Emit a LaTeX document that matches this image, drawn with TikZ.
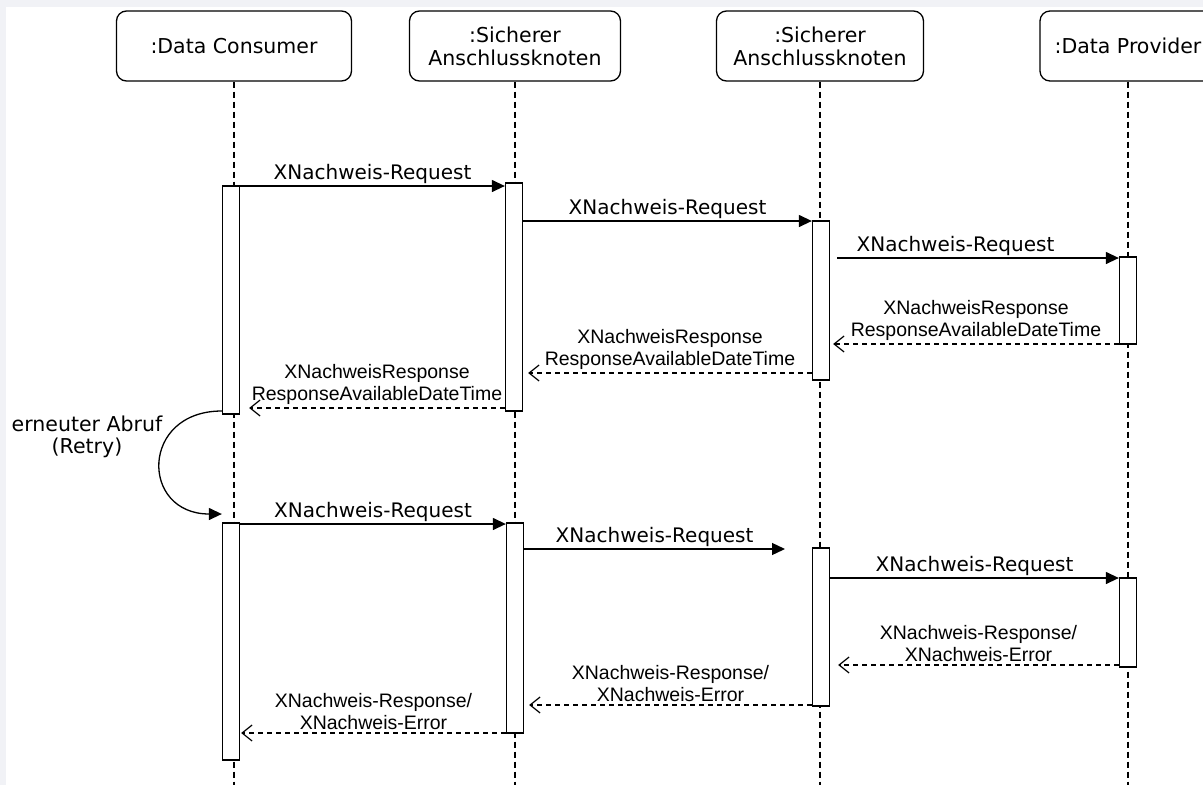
\documentclass[tikz,border=0pt]{standalone}
\usepackage{fontspec}
\setmainfont{DejaVu Sans}
\newfontfamily\respfont{Liberation Sans}
\usetikzlibrary{arrows.meta}
\definecolor{frame}{RGB}{241,242,246}

\begin{document}
\begin{tikzpicture}[x=1pt,y=-1pt,font=\fontsize{20.5}{23}\selectfont,
 obj/.style={draw,line width=1.3pt,rounded corners=10pt,fill=white,align=center,minimum height=70pt,inner sep=0pt},
 act/.style={draw,line width=1.3pt,fill=white,minimum width=17pt,inner sep=0pt},
 life/.style={line width=1.3pt,dash pattern=on 6pt off 4pt},
 req/.style={line width=1.3pt,-{Triangle[length=13pt,width=12pt]}},
 resp/.style={line width=1.2pt,dash pattern=on 5pt off 4pt,-{Straight Barb[length=10pt,width=16pt]}},
 lbl/.style={font=\fontsize{20}{22}\selectfont,inner sep=2pt},
 rlbl/.style={font=\respfont\fontsize{19.5}{22}\selectfont,align=center,inner sep=3pt}]
 \useasboundingbox (0,0) rectangle (1203,785);
 \clip (0,0) rectangle (1203,785);
 \fill[frame] (0,0) rectangle (1203,785);
 \fill[white] (6,7) rectangle (1203,785);
 % Objekte
 \node[obj,minimum width=235pt](dc) at (234,46) {:Data Consumer};
 \node[obj,minimum width=211pt](s1) at (515,46) {:Sicherer\\Anschlussknoten};
 \node[obj,minimum width=207pt](s2) at (820,46) {:Sicherer\\Anschlussknoten};
 \node[obj,minimum width=176pt](dp) at (1128,46) {:Data Provider};
 \draw[life](dc.south)--(dc.south |- 0,785);
 \draw[life](s1.south)--(s1.south |- 0,785);
 \draw[life](s2.south)--(s2.south |- 0,785);
 \draw[life](dp.south)--(dp.south |- 0,785);
 % Aktivierungen, 1. Abruf
 \node[act,minimum height=228pt](dcA) at (231,300) {};
 \node[act,minimum height=228pt](s1A) at (514,297) {};
 \node[act,minimum height=159pt](s2A) at (821,300.5) {};
 \node[act,minimum height=87pt](dpA) at (1128,300.5) {};
 % Aktivierungen, 2. Abruf
 \node[act,minimum height=237pt](dcB) at (231,641.5) {};
 \node[act,minimum height=210pt](s1B) at (515,628) {};
 \node[act,minimum height=158pt](s2B) at (821,627) {};
 \node[act,minimum height=89pt](dpB) at (1128,622.5) {};
 % Nachrichten
 \draw[req](dcA.east |- 0,186)--node[lbl,above]{XNachweis-Request}(s1A.west |- 0,186);
 \draw[req](s1A.east |- 0,221)--node[lbl,above]{XNachweis-Request}(s2A.west |- 0,221);
 \draw[req]([xshift=7pt]s2A.east |- 0,258)--node[lbl,above,pos=0.42]{XNachweis-Request}(dpA.west |- 0,258);
 \draw[resp](dpA.west |- 0,344)--node[rlbl,above]{XNachweisResponse\\ResponseAvailableDateTime}([xshift=3pt]s2A.east |- 0,344);
 \draw[resp](s2A.west |- 0,373)--node[rlbl,above]{XNachweisResponse\\ResponseAvailableDateTime}([xshift=5pt]s1A.east |- 0,373);
 \draw[resp](s1A.west |- 0,408)--node[rlbl,above]{XNachweisResponse\\ResponseAvailableDateTime}([xshift=9pt]dcA.east |- 0,408);
 % Retry
 \node[align=center,font=\fontsize{20.5}{22}\selectfont](retry) at (87,437) {erneuter Abruf\\(Retry)};
 \draw[req](dcA.west |- 0,411) .. controls (140,411) and (140,514) .. (dcB.west |- 0,514);
 \coordinate (gap) at (785,549);
 \draw[req](dcB.east |- 0,524)--node[lbl,above]{XNachweis-Request}(s1B.west |- 0,524);
 \draw[req](s1B.east |- 0,549)--node[lbl,above]{XNachweis-Request}(gap);
 \draw[req](s2B.east |- 0,578)--node[lbl,above]{XNachweis-Request}(dpB.west |- 0,578);
 \draw[resp](dpB.west |- 0,665)--node[rlbl,above]{XNachweis-Response/\\XNachweis-Error}([xshift=8pt]s2B.east |- 0,665);
 \draw[resp](s2B.west |- 0,705)--node[rlbl,above]{XNachweis-Response/\\XNachweis-Error}([xshift=5pt]s1B.east |- 0,705);
 \draw[resp](s1B.west |- 0,733)--node[rlbl,above]{XNachweis-Response/\\XNachweis-Error}([xshift=1pt]dcB.east |- 0,733);
\end{tikzpicture}
\end{document}
